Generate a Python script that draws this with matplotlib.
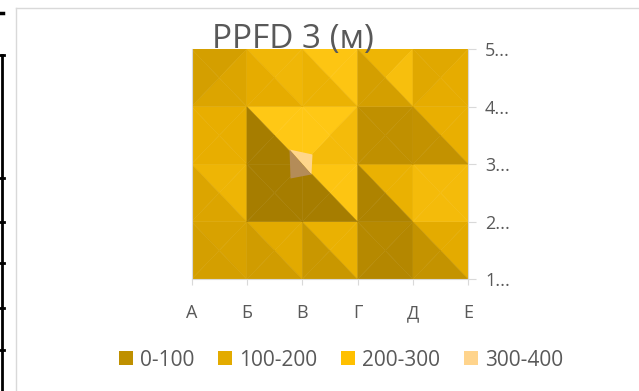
import numpy as np
import matplotlib.pyplot as plt
import matplotlib.tri as mtri
from matplotlib.colors import LinearSegmentedColormap, Normalize
from matplotlib.patches import Patch
from matplotlib.path import Path
from matplotlib.lines import Line2D

plt.rcParams['font.family'] = ['Open Sans', 'DejaVu Sans']

# Данные
cols = ['А', 'Б', 'В', 'Г', 'Д', 'Е']
rows = [1, 2, 3, 4, 5]
row_labels = ['1...', '2...', '3...', '4...', '5...']
bands = ['0-100', '100-200', '200-300', '300-400']
band_colors = ['#BF9000', '#E3AB00', '#FFC000', '#FFD48C']

# значения граней (верх -> низ: ряды 5-4, 4-3, 3-2, 2-1), по 5 ячеек
top_vals = [[150, 235, 290, 225, 180],
            [200, 300, 300, 100, 205],
            [225, 20, 290, 210, 250],
            [160, 185, 210, 70, 190]]
right_vals = [[170, 235, 290, 265, 195],
              [200, 300, 250, 100, 205],
              [225, 20, 290, 210, 250],
              [160, 185, 210, 62, 190]]
bottom_vals = [[170, 195, 215, 150, 195],
               [200, 20, 250, 100, 108],
               [170, 20, 20, 44, 250],
               [150, 140, 122, 62, 110]]
left_vals = [[150, 195, 215, 150, 180],
             [200, 20, 300, 100, 108],
             [170, 20, 20, 44, 250],
             [150, 140, 122, 70, 110]]
peak_col, peak_row = 2, 3  # пик 300-400 в точке В3

# Триангуляция
nx, ny = len(cols), len(rows)
gx, gy = np.meshgrid(np.arange(nx), rows)
px = list(gx.ravel().astype(float))
py = list(gy.ravel().astype(float))
triangles = []
face = []
for r in range(ny - 1):
    tr = ny - 2 - r
    for c in range(nx - 1):
        bl = r * nx + c
        br = bl + 1
        tl = bl + nx
        trr = tl + 1
        ci = len(px)
        px.append(c + 0.5)
        py.append(rows[r] + 0.5)
        triangles += [[tl, trr, ci], [trr, br, ci], [br, bl, ci], [bl, tl, ci]]
        face += [top_vals[tr][c], right_vals[tr][c], bottom_vals[tr][c], left_vals[tr][c]]
tri = mtri.Triangulation(px, py, triangles)

cmap = LinearSegmentedColormap.from_list('gold', [
    (0.0, '#A07800'), (0.25, '#C09000'), (0.5, '#E8AE00'),
    (0.75, '#FFC814'), (1.0, '#FFD68C')])
norm = Normalize(0, 400)

fig = plt.figure(figsize=(6.39, 3.91), dpi=100)
ax = fig.add_axes([191.5 / 639, 1 - 279.3 / 391, 276.8 / 639, 230.3 / 391])
ax.tripcolor(tri, facecolors=np.array(face, dtype=float), cmap=cmap, norm=norm,
             edgecolors='face', linewidth=0.3)

# маленький пик
v = [(-13, 15), (10, 10), (9, -10), (-12, -14)]
upper = Path([v[0], v[1], v[2], v[0]], closed=True)
lower = Path([v[0], v[2], v[3], v[0]], closed=True)
ax.scatter([peak_col], [peak_row], marker=upper, s=466, c='#FFD68C', linewidths=0, zorder=3)
ax.scatter([peak_col], [peak_row], marker=lower, s=466, c='#B48C58', linewidths=0, zorder=3)

ax.set_xlim(0, nx - 1)
ax.set_ylim(rows[0], rows[-1])
ax.set_xticks(range(nx), cols)
ax.yaxis.tick_right()
ax.set_yticks(rows, row_labels)
ax.tick_params(axis='x', length=4, color='#D9D9D9', pad=14, labelsize=13, labelcolor='#595959')
ax.tick_params(axis='y', length=6, color='#D9D9D9', pad=6, labelsize=13, labelcolor='#595959')
for s in ['left', 'bottom', 'right']:
    ax.spines[s].set_color('#D9D9D9')
    ax.spines[s].set_linewidth(0.8)
ax.spines['top'].set_visible(False)

fig.text(293 / 639, 1 - 48 / 391, 'PPFD 3 (м)', ha='center', va='baseline',
         fontsize=24, color='#595959')

handles = [Patch(facecolor=c, edgecolor='none', label=b) for c, b in zip(band_colors, bands)]
fig.legend(handles=handles, loc='center', bbox_to_anchor=(341 / 639, 1 - 360 / 391), ncol=4,
           frameon=False, fontsize=15, labelcolor='#595959', handlelength=0.65,
           handleheight=0.65, handletextpad=0.35, columnspacing=1.15)

# рамки соседних элементов
fig.add_artist(Line2D([16 / 639, 16 / 639], [1 - 8 / 391, 0], color='#D9D9D9', lw=1))
fig.add_artist(Line2D([16 / 639, 1], [1 - 8 / 391, 1 - 8 / 391], color='#D9D9D9', lw=1))
fig.add_artist(Line2D([1.5 / 639, 1.5 / 639], [1 - 55 / 391, 0], color='black', lw=2))
for yy in [55, 178, 222, 263, 308, 350]:
    fig.add_artist(Line2D([0, 4 / 639], [1 - yy / 391, 1 - yy / 391], color='black', lw=2))
fig.add_artist(Line2D([0, 3 / 639], [1 - 13 / 391, 1 - 13 / 391], color='black', lw=2.5))

fig.savefig('out.png', dpi=100)
